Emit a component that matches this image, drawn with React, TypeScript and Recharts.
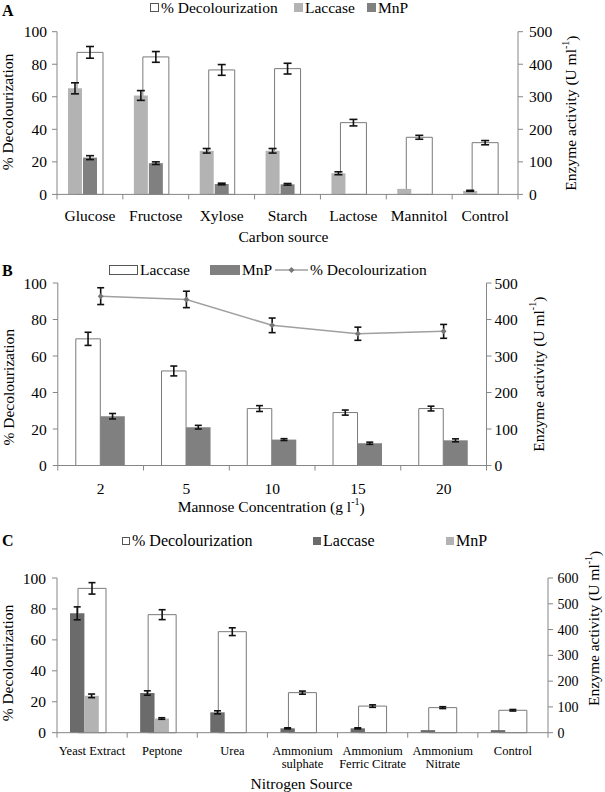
import React from 'react';
import { ComposedChart, Bar, Line, XAxis, YAxis, ErrorBar, Legend, Label } from 'recharts';

const FONT = '"Liberation Serif", "Times New Roman", serif';
const AXIS = '#868686';

// A – carbon source
const carbonSources = ['Glucose', 'Fructose', 'Xylose', 'Starch', 'Lactose', 'Mannitol', 'Control'];
const carbonDecol = [87.3, 84.5, 76.5, 77.3, 44.1, 35.1, 31.8];
const carbonDecolErr = [3.6, 3.3, 3.3, 3.3, 2.0, 1.2, 1.3];
const carbonLaccase = [326, 304, 134, 134, 65, 17, 11];
const carbonLaccaseErr = [17, 15, 7, 7, 4.5, 0, 1.5];
const carbonMnp = [113, 96, 32, 31, 1.5, 0, 0];
const carbonMnpErr = [6, 4, 2.5, 2.5, 0, 0, 0];

// B – mannose concentration
const mannoseConc = ['2', '5', '10', '15', '20'];
const mannoseLaccase = [347, 259, 156, 145, 156];
const mannoseLaccaseErr = [18, 13.5, 8, 7, 6.5];
const mannoseMnp = [135, 105, 71, 61, 69];
const mannoseMnpErr = [7.5, 5, 2.5, 3, 4];
const mannoseDecol = [92.8, 91.0, 76.8, 72.2, 73.5];
const mannoseDecolErr = [4.6, 4.5, 4.0, 3.6, 3.8];

// C – nitrogen source
const nitrogenSources = ['Yeast Extract', 'Peptone', 'Urea', 'Ammonium\nsulphate', 'Ammonium\nFerric Citrate', 'Ammonium\nNitrate', 'Control'];
const nitrogenDecol = [93.3, 76.3, 65.3, 25.9, 17.2, 16.2, 14.5];
const nitrogenDecolErr = [3.7, 3.2, 2.5, 1.0, 0.8, 0.6, 0.5];
const nitrogenLaccase = [463, 154, 79, 17, 17, 10, 10];
const nitrogenLaccaseErr = [25, 8.5, 6, 2, 2, 0, 0];
const nitrogenMnp = [143, 55, 0, 0, 0, 0, 0];
const nitrogenMnpErr = [7, 3, 0, 0, 0, 0, 0];

const pctTicks = [0, 20, 40, 60, 80, 100];
const enzTicks500 = [0, 100, 200, 300, 400, 500];
const enzTicks600 = [0, 100, 200, 300, 400, 500, 600];

const dataA = carbonSources.map((name, i) => ({
  name,
  decol: carbonDecol[i],
  decolErr: carbonDecolErr[i],
  laccase: carbonLaccase[i],
  laccaseErr: carbonLaccaseErr[i],
  mnp: carbonMnp[i],
  mnpErr: carbonMnpErr[i],
}));

const dataB = mannoseConc.map((name, i) => ({
  name,
  laccase: mannoseLaccase[i],
  laccaseErr: mannoseLaccaseErr[i],
  mnp: mannoseMnp[i],
  mnpErr: mannoseMnpErr[i],
  decol: mannoseDecol[i],
  decolErr: mannoseDecolErr[i],
}));

const dataC = nitrogenSources.map((name, i) => ({
  name,
  decol: nitrogenDecol[i],
  decolErr: nitrogenDecolErr[i],
  laccase: nitrogenLaccase[i],
  laccaseErr: nitrogenLaccaseErr[i],
  mnp: nitrogenMnp[i],
  mnpErr: nitrogenMnpErr[i],
}));

// category tick: label in the middle, tick marks on the category boundaries (Excel style)
function makeCatTick(n: number, labelDy: number, lineH: number, fontSize: number) {
  return (props: any) => {
    const { x, y, payload, index } = props;
    const half = payload.offset ?? props.width / n / 2;
    const lines = String(payload.value).split('\n');
    return (
      <g>
        <line x1={x - half} x2={x - half} y1={y} y2={y + 5} stroke={AXIS} />
        {index === n - 1 && <line x1={x + half} x2={x + half} y1={y} y2={y + 5} stroke={AXIS} />}
        <text x={x} y={y + labelDy} textAnchor="middle" fontSize={fontSize} fontFamily={FONT} fill="#000">
          {lines.map((l, i) => (
            <tspan key={i} x={x} dy={i === 0 ? 0 : lineH}>{l}</tspan>
          ))}
        </text>
      </g>
    );
  };
}

function vTitle(dx: number, dy: number, body: React.ReactNode) {
  return (p: any) => {
    const vb = p.viewBox;
    const x = vb.x + dx;
    const y = vb.y + vb.height / 2 + dy;
    return (
      <text x={x} y={y} transform={`rotate(-90 ${x} ${y})`} textAnchor="middle" dominantBaseline="central"
        fontFamily={FONT} fontSize={15.5} fill="#000">
        {body}
      </text>
    );
  };
}

function hTitle(dx: number, dy: number, body: React.ReactNode) {
  return (p: any) => {
    const vb = p.viewBox;
    return (
      <text x={vb.x + vb.width / 2 + dx} y={vb.y + dy} textAnchor="middle" dominantBaseline="central"
        fontFamily={FONT} fontSize={15.5} fill="#000">
        {body}
      </text>
    );
  };
}

const enzymeTitle = (
  <>
    Enzyme activity (U ml<tspan fontSize={10} dy={-6}>-1</tspan><tspan dy={6}>)</tspan>
  </>
);

type LegendItem = { left: number; label: string; kind: 'box' | 'rect' | 'line'; fill?: string; stroke?: string; w: number; h: number };

function legendContent(items: LegendItem[], top: number, fontSize: number) {
  return () => (
    <div style={{ position: 'relative', height: 24, fontFamily: FONT, fontSize, color: '#000' }}>
      {items.map((it) => (
        <div key={it.label} style={{ position: 'absolute', left: it.left, top, display: 'flex', alignItems: 'center', whiteSpace: 'nowrap', lineHeight: 1 }}>
          <svg width={it.w} height={it.kind === 'line' ? 8 : it.h} style={{ marginRight: 2 }}>
            {it.kind === 'line' ? (
              <>
                <line x1={0} x2={it.w} y1={4} y2={4} stroke="#a0a0a0" strokeWidth={1.5} />
                <path d={`M${it.w / 2} 1 L${it.w / 2 + 3} 4 L${it.w / 2} 7 L${it.w / 2 - 3} 4 Z`} fill="#777" />
              </>
            ) : (
              <rect x={0.5} y={0.5} width={it.w - 1} height={it.h - 1} fill={it.fill} stroke={it.stroke ?? it.fill} />
            )}
          </svg>
          <span>{it.label}</span>
        </div>
      ))}
    </div>
  );
}

const legendA: LegendItem[] = [
  { left: 150, label: '% Decolourization', kind: 'box', fill: '#fff', stroke: '#555', w: 9, h: 9 },
  { left: 294, label: 'Laccase', kind: 'box', fill: '#b3b3b3', w: 9, h: 9 },
  { left: 367, label: 'MnP', kind: 'box', fill: '#808080', w: 9, h: 9 },
];
const legendB: LegendItem[] = [
  { left: 109, label: 'Laccase', kind: 'rect', fill: '#fff', stroke: '#555', w: 29, h: 10 },
  { left: 210, label: 'MnP', kind: 'rect', fill: '#808080', w: 30, h: 10 },
  { left: 275, label: '% Decolourization', kind: 'line', w: 33, h: 8 },
];
const legendC: LegendItem[] = [
  { left: 122, label: '% Decolourization', kind: 'box', fill: '#fff', stroke: '#555', w: 8, h: 8 },
  { left: 313, label: 'Laccase', kind: 'box', fill: '#6b6b6b', w: 8, h: 8 },
  { left: 446, label: 'MnP', kind: 'box', fill: '#b3b3b3', w: 8, h: 8 },
];

const diamond = (p: any) => (
  <path key={`d${p.index}`} d={`M${p.cx} ${p.cy - 3} L${p.cx + 3} ${p.cy} L${p.cx} ${p.cy + 3} L${p.cx - 3} ${p.cy} Z`} fill="#777" />
);

const yTick = (fs: number) => ({ fontSize: fs, fill: '#000', fontFamily: FONT });

function Panel({ letter, letterTop, height, children }: { letter: string; letterTop: number; height: number; children: React.ReactNode }) {
  return (
    <div style={{ position: 'relative', width: 605, height }}>
      <div style={{ position: 'absolute', left: 2, top: letterTop, fontWeight: 'bold', fontSize: 16, fontFamily: FONT, lineHeight: 1, zIndex: 2 }}>
        {letter}
      </div>
      {children}
    </div>
  );
}

function ChartA() {
  return (
    <ComposedChart width={605} height={260} data={dataA} barGap={1} margin={{ top: 31.7, right: 0, bottom: 0, left: 0 }}>
      <Legend verticalAlign="middle" align="center" wrapperStyle={{ top: 0, left: 0, width: 605 }} content={legendContent(legendA, 0, 15.5)} />
      <XAxis xAxisId="pair" dataKey="name" height={65.6} tickSize={0} tickMargin={0} tickLine={false}
        axisLine={{ stroke: AXIS }} interval={0} tick={makeCatTick(7, 27, 0, 15.5)}>
        <Label content={hTitle(-4, 41.6, 'Carbon source')} />
      </XAxis>
      <XAxis xAxisId="decol" dataKey="name" hide height={0} />
      <YAxis yAxisId="pct" domain={[0, 100]} ticks={pctTicks} width={57} tickSize={5} tickMargin={5}
        axisLine={{ stroke: AXIS }} tickLine={{ stroke: AXIS }} tick={yTick(15.5)}>
        <Label content={vTitle(8, -1, '% Decolourization')} />
      </YAxis>
      <YAxis yAxisId="enz" orientation="right" domain={[0, 500]} ticks={enzTicks500} width={87} tickSize={5} tickMargin={6}
        axisLine={{ stroke: AXIS }} tickLine={{ stroke: AXIS }} tick={yTick(15.5)}>
        <Label content={vTitle(53, 0, enzymeTitle)} />
      </YAxis>
      <Bar xAxisId="decol" yAxisId="pct" dataKey="decol" barSize={26} fill="#fff" stroke="#7a7a7a" strokeWidth={1} isAnimationActive={false}>
        <ErrorBar dataKey="decolErr" width={4} stroke="#111" strokeWidth={1.6} />
      </Bar>
      <Bar xAxisId="pair" yAxisId="enz" dataKey="laccase" barSize={14} fill="#b3b3b3" isAnimationActive={false}>
        <ErrorBar dataKey="laccaseErr" width={4} stroke="#111" strokeWidth={1.6} />
      </Bar>
      <Bar xAxisId="pair" yAxisId="enz" dataKey="mnp" barSize={14} fill="#808080" isAnimationActive={false}>
        <ErrorBar dataKey="mnpErr" width={4} stroke="#111" strokeWidth={1.6} />
      </Bar>
      <Bar xAxisId="pair" yAxisId="enz" dataKey="spacer" barSize={14} fill="none" isAnimationActive={false} />
    </ComposedChart>
  );
}

function ChartB() {
  return (
    <ComposedChart width={605} height={265} data={dataB} barGap={0} margin={{ top: 23, right: 0, bottom: 0, left: 0 }}>
      <Legend verticalAlign="middle" align="center" wrapperStyle={{ top: 0, left: 0, width: 605 }} content={legendContent(legendB, 2, 15.5)} />
      <XAxis dataKey="name" height={59.5} tickSize={0} tickMargin={0} tickLine={false}
        axisLine={{ stroke: AXIS }} interval={0} tick={makeCatTick(5, 28, 0, 15.5)}>
        <Label content={hTitle(-1, 41, <>Mannose Concentration (g l<tspan fontSize={10} dy={-6}>-1</tspan><tspan dy={6}>)</tspan></>)} />
      </XAxis>
      <YAxis yAxisId="pct" domain={[0, 100]} ticks={pctTicks} width={57.8} tickSize={5} tickMargin={6}
        axisLine={{ stroke: AXIS }} tickLine={{ stroke: AXIS }} tick={yTick(15.5)}>
        <Label content={vTitle(8, 13, '% Decolourization')} />
      </YAxis>
      <YAxis yAxisId="enz" orientation="right" domain={[0, 500]} ticks={enzTicks500} width={118.5} tickSize={5} tickMargin={3}
        axisLine={{ stroke: AXIS }} tickLine={{ stroke: AXIS }} tick={yTick(15.5)}>
        <Label content={vTitle(51.5, 0, enzymeTitle)} />
      </YAxis>
      <Bar yAxisId="enz" dataKey="laccase" barSize={24.5} fill="#fff" stroke="#7a7a7a" strokeWidth={1} isAnimationActive={false}>
        <ErrorBar dataKey="laccaseErr" width={3.5} stroke="#111" strokeWidth={1.6} />
      </Bar>
      <Bar yAxisId="enz" dataKey="mnp" barSize={24.5} fill="#808080" isAnimationActive={false}>
        <ErrorBar dataKey="mnpErr" width={3.5} stroke="#111" strokeWidth={1.6} />
      </Bar>
      <Line yAxisId="pct" dataKey="decol" stroke="#a0a0a0" strokeWidth={1.5} dot={diamond} activeDot={false} isAnimationActive={false}>
        <ErrorBar dataKey="decolErr" width={3.5} stroke="#111" strokeWidth={1.6} />
      </Line>
    </ComposedChart>
  );
}

function ChartC() {
  return (
    <ComposedChart width={605} height={267} data={dataC} barGap={0} margin={{ top: 53, right: 0, bottom: 0, left: 0 }}>
      <Legend verticalAlign="middle" align="center" wrapperStyle={{ top: 0, left: 0, width: 605 }} content={legendContent(legendC, 8, 16)} />
      <XAxis xAxisId="pair" dataKey="name" height={59.3} tickSize={0} tickMargin={0} tickLine={false}
        axisLine={{ stroke: AXIS }} interval={0} tick={makeCatTick(7, 22.5, 13, 12.5)}>
        <Label content={hTitle(-1, 50.6, 'Nitrogen Source')} />
      </XAxis>
      <XAxis xAxisId="decol" dataKey="name" hide height={0} />
      <YAxis yAxisId="pct" domain={[0, 100]} ticks={pctTicks} width={57} tickSize={5} tickMargin={6}
        axisLine={{ stroke: AXIS }} tickLine={{ stroke: AXIS }} tick={yTick(15.5)}>
        <Label content={vTitle(8, 7.7, '% Decolourization')} />
      </YAxis>
      <YAxis yAxisId="enz" orientation="right" domain={[0, 600]} ticks={enzTicks600} width={57} tickSize={5} tickMargin={4.5}
        axisLine={{ stroke: AXIS }} tickLine={{ stroke: AXIS }} tick={yTick(14)}>
        <Label content={vTitle(46, -27, enzymeTitle)} />
      </YAxis>
      <Bar xAxisId="decol" yAxisId="pct" dataKey="decol" barSize={28} fill="#fff" stroke="#7a7a7a" strokeWidth={1} isAnimationActive={false}>
        <ErrorBar dataKey="decolErr" width={3.5} stroke="#111" strokeWidth={1.6} />
      </Bar>
      <Bar xAxisId="pair" yAxisId="enz" dataKey="laccase" barSize={14.4} fill="#6b6b6b" isAnimationActive={false}>
        <ErrorBar dataKey="laccaseErr" width={3.5} stroke="#111" strokeWidth={1.6} />
      </Bar>
      <Bar xAxisId="pair" yAxisId="enz" dataKey="mnp" barSize={14.4} fill="#b3b3b3" isAnimationActive={false}>
        <ErrorBar dataKey="mnpErr" width={3.5} stroke="#111" strokeWidth={1.6} />
      </Bar>
      <Bar xAxisId="pair" yAxisId="enz" dataKey="spacer" barSize={14.4} fill="none" isAnimationActive={false} />
    </ComposedChart>
  );
}

export default function App() {
  return (
    <div style={{ position: 'absolute', left: 0, top: 0, width: 605, height: 792, background: '#fff', fontFamily: FONT }}>
      <Panel letter="A" letterTop={3} height={260}>
        <ChartA />
      </Panel>
      <Panel letter="B" letterTop={3} height={265}>
        <ChartB />
      </Panel>
      <Panel letter="C" letterTop={8} height={267}>
        <ChartC />
      </Panel>
    </div>
  );
}
